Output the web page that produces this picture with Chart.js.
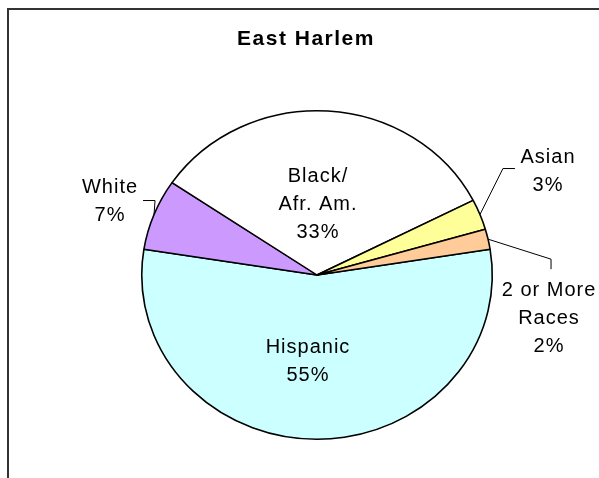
<!DOCTYPE html>
<html>
<head>
<meta charset="utf-8">
<script src="https://cdn.jsdelivr.net/npm/chart.js@4.4.0/dist/chart.umd.min.js"></script>
<style>
    body { margin: 0; background: #fff; }
    #wrap { position: relative; width: 599px; height: 478px; overflow: hidden; }
    #frame { position: absolute; left: 7px; top: 8px; width: 700px; height: 600px; border: 2px solid #333; }
    #myChart { position: absolute; left: 0; top: 0; }
</style>
</head>
<body>
<div id="wrap">
    <div id="frame"></div>
    <canvas id="myChart" width="599" height="478"></canvas>
</div>
<script>
const chartTitle = 'East Harlem';
const categories = ['Hispanic', 'White', 'Black/Afr. Am.', 'Asian', '2 or More Races'];
const shares = [55, 7, 33, 3, 2];
const labelLines = [['Hispanic'], ['White'], ['Black/', 'Afr. Am.'], ['Asian'], ['2 or More', 'Races']];
const sliceColors = ['#CCFFFF', '#CC99FF', '#FFFFFF', '#FFFF99', '#FFCC99'];

// excel drew the pie a bit wider than tall
const stretchX = 175 / 164;

// label anchor: centre x, first baseline y
const labelPos = [
    {x: 308, y: 353},
    {x: 110, y: 193},
    {x: 318, y: 182},
    {x: 548, y: 163},
    {x: 549, y: 296}
];

// leader line bends, relative to the slice edge midpoint
const leaders = [
    null,
    [[1, -14], [-11, -14]],
    null,
    [[23, -46], [35, -46]],
    [[63, 20], [63, 30]]
];


const ellipsePlugin = {
    id: 'ellipse',
    beforeDatasetsDraw(chart) {
        const arc = chart.getDatasetMeta(0).data[0];
        const ctx = chart.ctx;
        ctx.save();
        ctx.translate(arc.x, arc.y);
        ctx.scale(stretchX, 1);
        ctx.translate(-arc.x, -arc.y);
    },
    afterDatasetsDraw(chart) {
        chart.ctx.restore();
    }
};


const labelPlugin = {
    id: 'sliceLabels',
    afterDraw(chart) {
        const ctx = chart.ctx;
        const arcs = chart.getDatasetMeta(0).data;
        ctx.save();
        ctx.fillStyle = '#000';
        ctx.textAlign = 'center';
        ctx.textBaseline = 'alphabetic';

        ctx.font = 'bold 21px "Liberation Sans", Arial, sans-serif';
        ctx.letterSpacing = '1.5px';
        ctx.fillText(chartTitle, 306, 45);

        ctx.font = '20px "Liberation Sans", Arial, sans-serif';
        ctx.letterSpacing = '1px';
        arcs.forEach((arc, i) => {
            const pos = labelPos[i];
            const lines = labelLines[i].concat(shares[i] + '%');
            lines.forEach((t, k) => ctx.fillText(t, pos.x, pos.y + k * 28));

            if (leaders[i]) {
                const mid = (arc.startAngle + arc.endAngle) / 2;
                const ax = arc.x + Math.cos(mid) * arc.outerRadius * stretchX;
                const ay = arc.y + Math.sin(mid) * arc.outerRadius;
                ctx.beginPath();
                ctx.moveTo(ax, ay);
                leaders[i].forEach(([dx, dy]) => ctx.lineTo(ax + dx, ay + dy));
                ctx.lineWidth = 1;
                ctx.strokeStyle = '#000';
                ctx.stroke();
            }
        });
        ctx.restore();
    }
};


new Chart(document.getElementById('myChart'), {
    type: 'pie',
    data: {
        labels: categories,
        datasets: [{
            data: shares,
            backgroundColor: sliceColors,
            borderColor: '#000',
            borderWidth: 1.5,
            clip: false
        }]
    },
    options: {
        responsive: false,
        animation: false,
        events: [],
        rotation: 81,
        layout: {
            padding: {top: 110, bottom: 38, left: 152, right: 117}
        },
        plugins: {
            legend: { display: false },
            tooltip: { enabled: false },
            title: { display: false }
        }
    },
    plugins: [ellipsePlugin, labelPlugin]
});
</script>
</body>
</html>
